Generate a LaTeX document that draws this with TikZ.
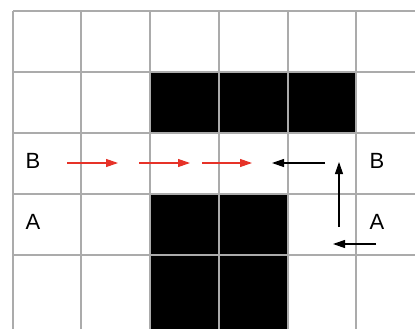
\documentclass[tikz,border=0pt]{standalone}
\usepackage{fontspec}
\setmainfont{Liberation Sans}
\usetikzlibrary{arrows.meta}
\begin{document}
\begin{tikzpicture}[x=1pt,y=-1pt,
  gridline/.style={draw=black!33,line width=1.3pt},
  cellfill/.style={fill=black},
  lbl/.style={font=\fontsize{22}{24}\selectfont,inner sep=0pt,anchor=center},
  redarrow/.style={draw={rgb,255:red,230;green,50;blue,40},line width=1.1pt,-{Triangle[length=12pt,width=8pt]}},
  blkarrow/.style={draw=black,line width=1.1pt,-{Triangle[length=12pt,width=8pt]}}]
\useasboundingbox (0,0) rectangle (415,329);
\fill[white] (0,0) rectangle (415,329);
% black cells
\fill[cellfill] (150,72) rectangle (356,133);
\fill[cellfill] (150,194) rectangle (288,329);
% grid
\foreach \x in {13,81,150,219,288,356}
  \draw[gridline] (\x,11) -- (\x,329);
\foreach \y in {11,72,133,194,255}
  \draw[gridline] (13,\y) -- (415,\y);
% labels
\node[lbl] (bl) at (33,161) {B};
\node[lbl] (br) at (377,161) {B};
\node[lbl] (al) at (33,222) {A};
\node[lbl] (ar) at (377,222) {A};
% arrow coordinates
\coordinate (r1s) at (67,163); \coordinate (r1e) at (118,163);
\coordinate (r2s) at (139,163); \coordinate (r2e) at (190,163);
\coordinate (r3s) at (202,163); \coordinate (r3e) at (252,163);
\coordinate (k1s) at (325,163); \coordinate (k1e) at (272,163);
\coordinate (k2s) at (339,227); \coordinate (k2e) at (339,162);
\coordinate (k3s) at (376,244); \coordinate (k3e) at (333,244);
\draw[redarrow] (r1s) -- (r1e);
\draw[redarrow] (r2s) -- (r2e);
\draw[redarrow] (r3s) -- (r3e);
\draw[blkarrow] (k1s) -- (k1e);
\draw[blkarrow] (k2s) -- (k2e);
\draw[blkarrow] (k3s) -- (k3e);
\end{tikzpicture}
\end{document}
